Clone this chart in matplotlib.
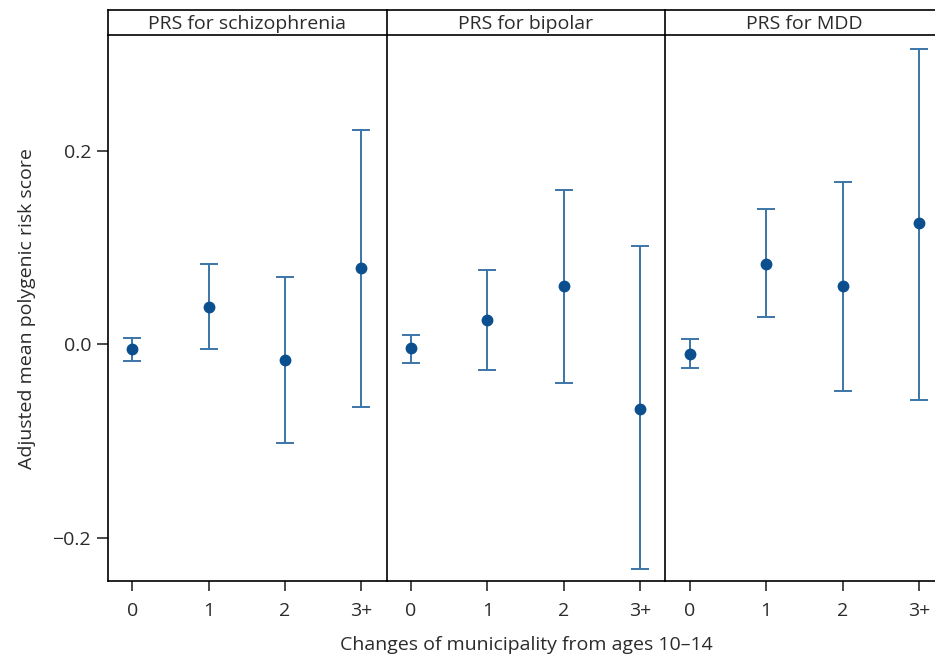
import matplotlib.pyplot as plt

plt.rcParams['font.family'] = ['Open Sans', 'DejaVu Sans']

# data
categories = ['0', '1', '2', '3+']
panels = ['PRS for schizophrenia', 'PRS for bipolar', 'PRS for MDD']

scz_mean = [-0.005, 0.039, -0.016, 0.079]
scz_low = [-0.017, -0.005, -0.102, -0.065]
scz_high = [0.007, 0.083, 0.070, 0.222]

bip_mean = [-0.004, 0.025, 0.060, -0.067]
bip_low = [-0.019, -0.027, -0.040, -0.232]
bip_high = [0.010, 0.077, 0.160, 0.102]

mdd_mean = [-0.010, 0.083, 0.060, 0.125]
mdd_low = [-0.025, 0.028, -0.048, -0.058]
mdd_high = [0.005, 0.140, 0.168, 0.306]

means = [scz_mean, bip_mean, mdd_mean]
lows = [scz_low, bip_low, mdd_low]
highs = [scz_high, bip_high, mdd_high]

W, H = 935, 657
fig = plt.figure(figsize=(W / 100, H / 100), dpi=100)

text_col = '#2b2b2b'
bar_col = '#3b75a8'
pt_col = '#0b4f8f'

left, pw = 107.7, 278.8
top_plot, bottom_plot = 35.3, 581
strip_top = 9.7

axes = []
for i, name in enumerate(panels):
    x0 = left + i * pw
    ax = fig.add_axes([x0 / W, 1 - bottom_plot / H, pw / W, (bottom_plot - top_plot) / H],
                      sharey=axes[0] if axes else None)
    axes.append(ax)
    xs = list(range(len(categories)))
    m = means[i]
    yerr = [[m[k] - lows[i][k] for k in xs], [highs[i][k] - m[k] for k in xs]]
    ax.errorbar(xs, m, yerr=yerr, fmt='none', ecolor=bar_col, elinewidth=1.4,
                capsize=6.5, capthick=1.4)
    ax.plot(xs, m, 'o', color=pt_col, markersize=7.5, zorder=3)
    ax.set_xlim(-0.32, 3.33)
    ax.set_ylim(-0.2449, 0.3197)
    ax.set_xticks(xs)
    ax.set_xticklabels(categories)
    ax.tick_params(axis='x', direction='out', length=7, width=1.2, colors=text_col,
                   labelsize=14, pad=8)
    ax.spines['top'].set_visible(False)
    ax.spines['right'].set_visible(False)
    for s in ['left', 'bottom']:
        ax.spines[s].set_linewidth(1.2)
        ax.spines[s].set_color('black')
    if i == 0:
        ax.set_yticks([-0.2, 0.0, 0.2])
        ax.set_yticklabels(['\u22120.2', '0.0', '0.2'])
        ax.tick_params(axis='y', direction='out', length=8, width=1.2, colors=text_col,
                       labelsize=14, pad=4)
        ax.set_ylabel('Adjusted mean polygenic risk score', fontsize=14, color=text_col,
                      labelpad=12)
    else:
        ax.tick_params(axis='y', left=False, labelleft=False)

    # strip header
    sax = fig.add_axes([x0 / W, 1 - top_plot / H, pw / W, (top_plot - strip_top) / H])
    sax.set_xticks([])
    sax.set_yticks([])
    for s in sax.spines.values():
        s.set_linewidth(1.2)
        s.set_color('black')
    sax.spines['right'].set_visible(False)
    sax.text(0.5, 0.45, name, ha='center', va='center', fontsize=14, color=text_col,
             transform=sax.transAxes)

fig.text((left + 1.5 * pw) / W, 1 - 645 / H, 'Changes of municipality from ages 10\u201314',
         ha='center', va='center', fontsize=14, color=text_col)

fig.savefig('out.png', dpi=100)
